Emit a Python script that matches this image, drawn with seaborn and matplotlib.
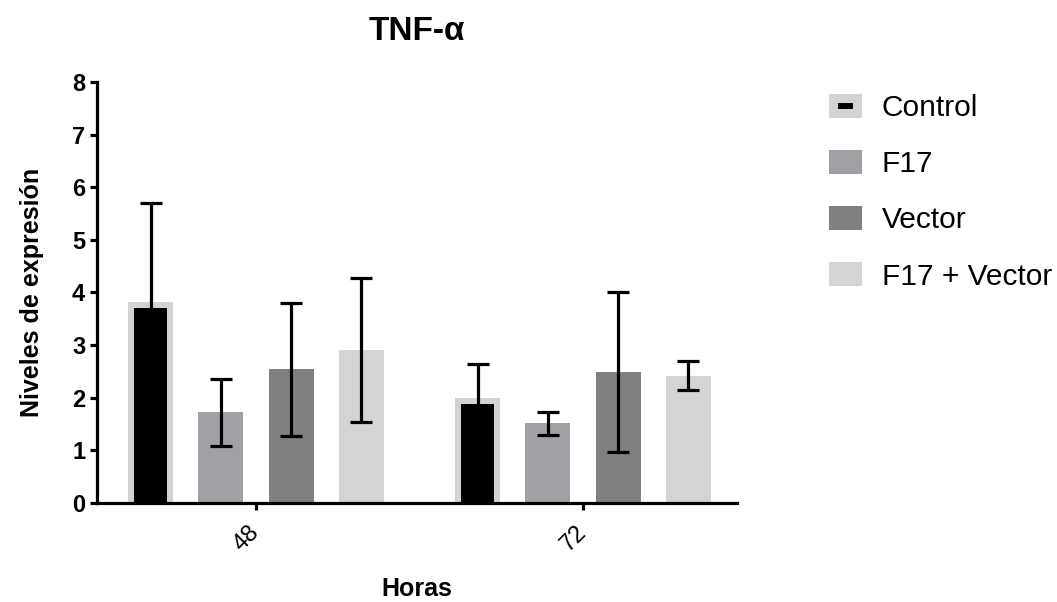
import numpy as np
import pandas as pd
import matplotlib
matplotlib.use('Agg')
import matplotlib.pyplot as plt
from matplotlib.patches import Patch
import seaborn as sns

horas = ['48', '72']
grupos = ['Control', 'F17', 'Vector', 'F17 + Vector']
colores = ['#000000', '#a1a1a5', '#808080', '#d4d4d4']
borde_control = '#d3d3d3'

medias = {
    'Control':      [3.77, 1.93],
    'F17':          [1.72, 1.51],
    'Vector':       [2.54, 2.48],
    'F17 + Vector': [2.90, 2.42],
}
errores = {
    'Control':      [1.93, 0.71],
    'F17':          [0.64, 0.21],
    'Vector':       [1.26, 1.52],
    'F17 + Vector': [1.37, 0.28],
}

rows = []
for g in grupos:
    for h, m in zip(horas, medias[g]):
        rows.append({'Horas': h, 'Grupo': g, 'Valor': m})
df = pd.DataFrame(rows)

sns.set_style('ticks')
plt.rcParams['font.family'] = ['Liberation Sans', 'DejaVu Sans']
for k in ['text.color', 'axes.labelcolor', 'xtick.color', 'ytick.color', 'axes.edgecolor']:
    plt.rcParams[k] = 'black'

fig = plt.figure(figsize=(10.57, 6.02), dpi=100)
ax = fig.add_axes([0.0918, 0.1645, 0.6055, 0.6995])

sns.barplot(data=df, x='Horas', y='Valor', hue='Grupo', order=horas,
            hue_order=grupos, palette=colores, width=0.86, gap=0.36,
            errorbar=None, saturation=1, legend=False, ax=ax)

ax.set_xlim(-0.486, 1.471)
ax.set_ylim(0, 8)
ax.set_yticks(range(0, 9))

# grosor del borde gris del control en unidades de datos
lw_px = 6
px_per_x = ax.transData.transform((1, 0))[0] - ax.transData.transform((0, 0))[0]
px_per_y = ax.transData.transform((0, 1))[1] - ax.transData.transform((0, 0))[1]

for g, cont in zip(grupos, ax.containers):
    for bar, err in zip(cont, errores[g]):
        cx = bar.get_x() + bar.get_width() / 2
        h = bar.get_height()
        if g == 'Control':
            dw = lw_px / px_per_x
            dy = lw_px / px_per_y
            bar.set_x(bar.get_x() + dw / 2)
            bar.set_width(bar.get_width() - dw)
            bar.set_y(-dy)
            bar.set_height(h + dy)
            bar.set_edgecolor(borde_control)
            bar.set_linewidth(lw_px * 72 / 100)
        else:
            bar.set_linewidth(0)
        ax.errorbar(cx, h, yerr=err, color='black',
                    elinewidth=2.3, capsize=8, capthick=2.3, zorder=5)

for s in ['top', 'right']:
    ax.spines[s].set_visible(False)
for s in ['left', 'bottom']:
    ax.spines[s].set_linewidth(2.3)
ax.tick_params(axis='both', width=2.3, length=5, color='black')
ax.tick_params(axis='y', labelsize=17)
ax.tick_params(axis='x', labelsize=17, pad=14)
for t in ax.get_yticklabels():
    t.set_fontweight('bold')
plt.setp(ax.get_xticklabels(), rotation=45, ha='right', va='center',
         rotation_mode='anchor')

ax.set_xlabel('Horas', fontsize=18, fontweight='bold', labelpad=15)
ax.set_ylabel('Niveles de expresión', fontsize=18, fontweight='bold', labelpad=20)
ax.set_title('TNF-α', fontsize=24, fontweight='bold', pad=30)

handles = []
for g, c in zip(grupos, colores):
    if g == 'Control':
        handles.append(Patch(facecolor=c, edgecolor=borde_control, linewidth=6.5))
    else:
        handles.append(Patch(facecolor=c, edgecolor=c, linewidth=6.5))
fig.legend(handles, grupos, loc='upper left', bbox_to_anchor=(0.763, 0.888),
           frameon=False, fontsize=21.5, handlelength=0.8, handleheight=0.4,
           handletextpad=0.82, labelspacing=0.94)

fig.savefig('out.png', dpi=100)
